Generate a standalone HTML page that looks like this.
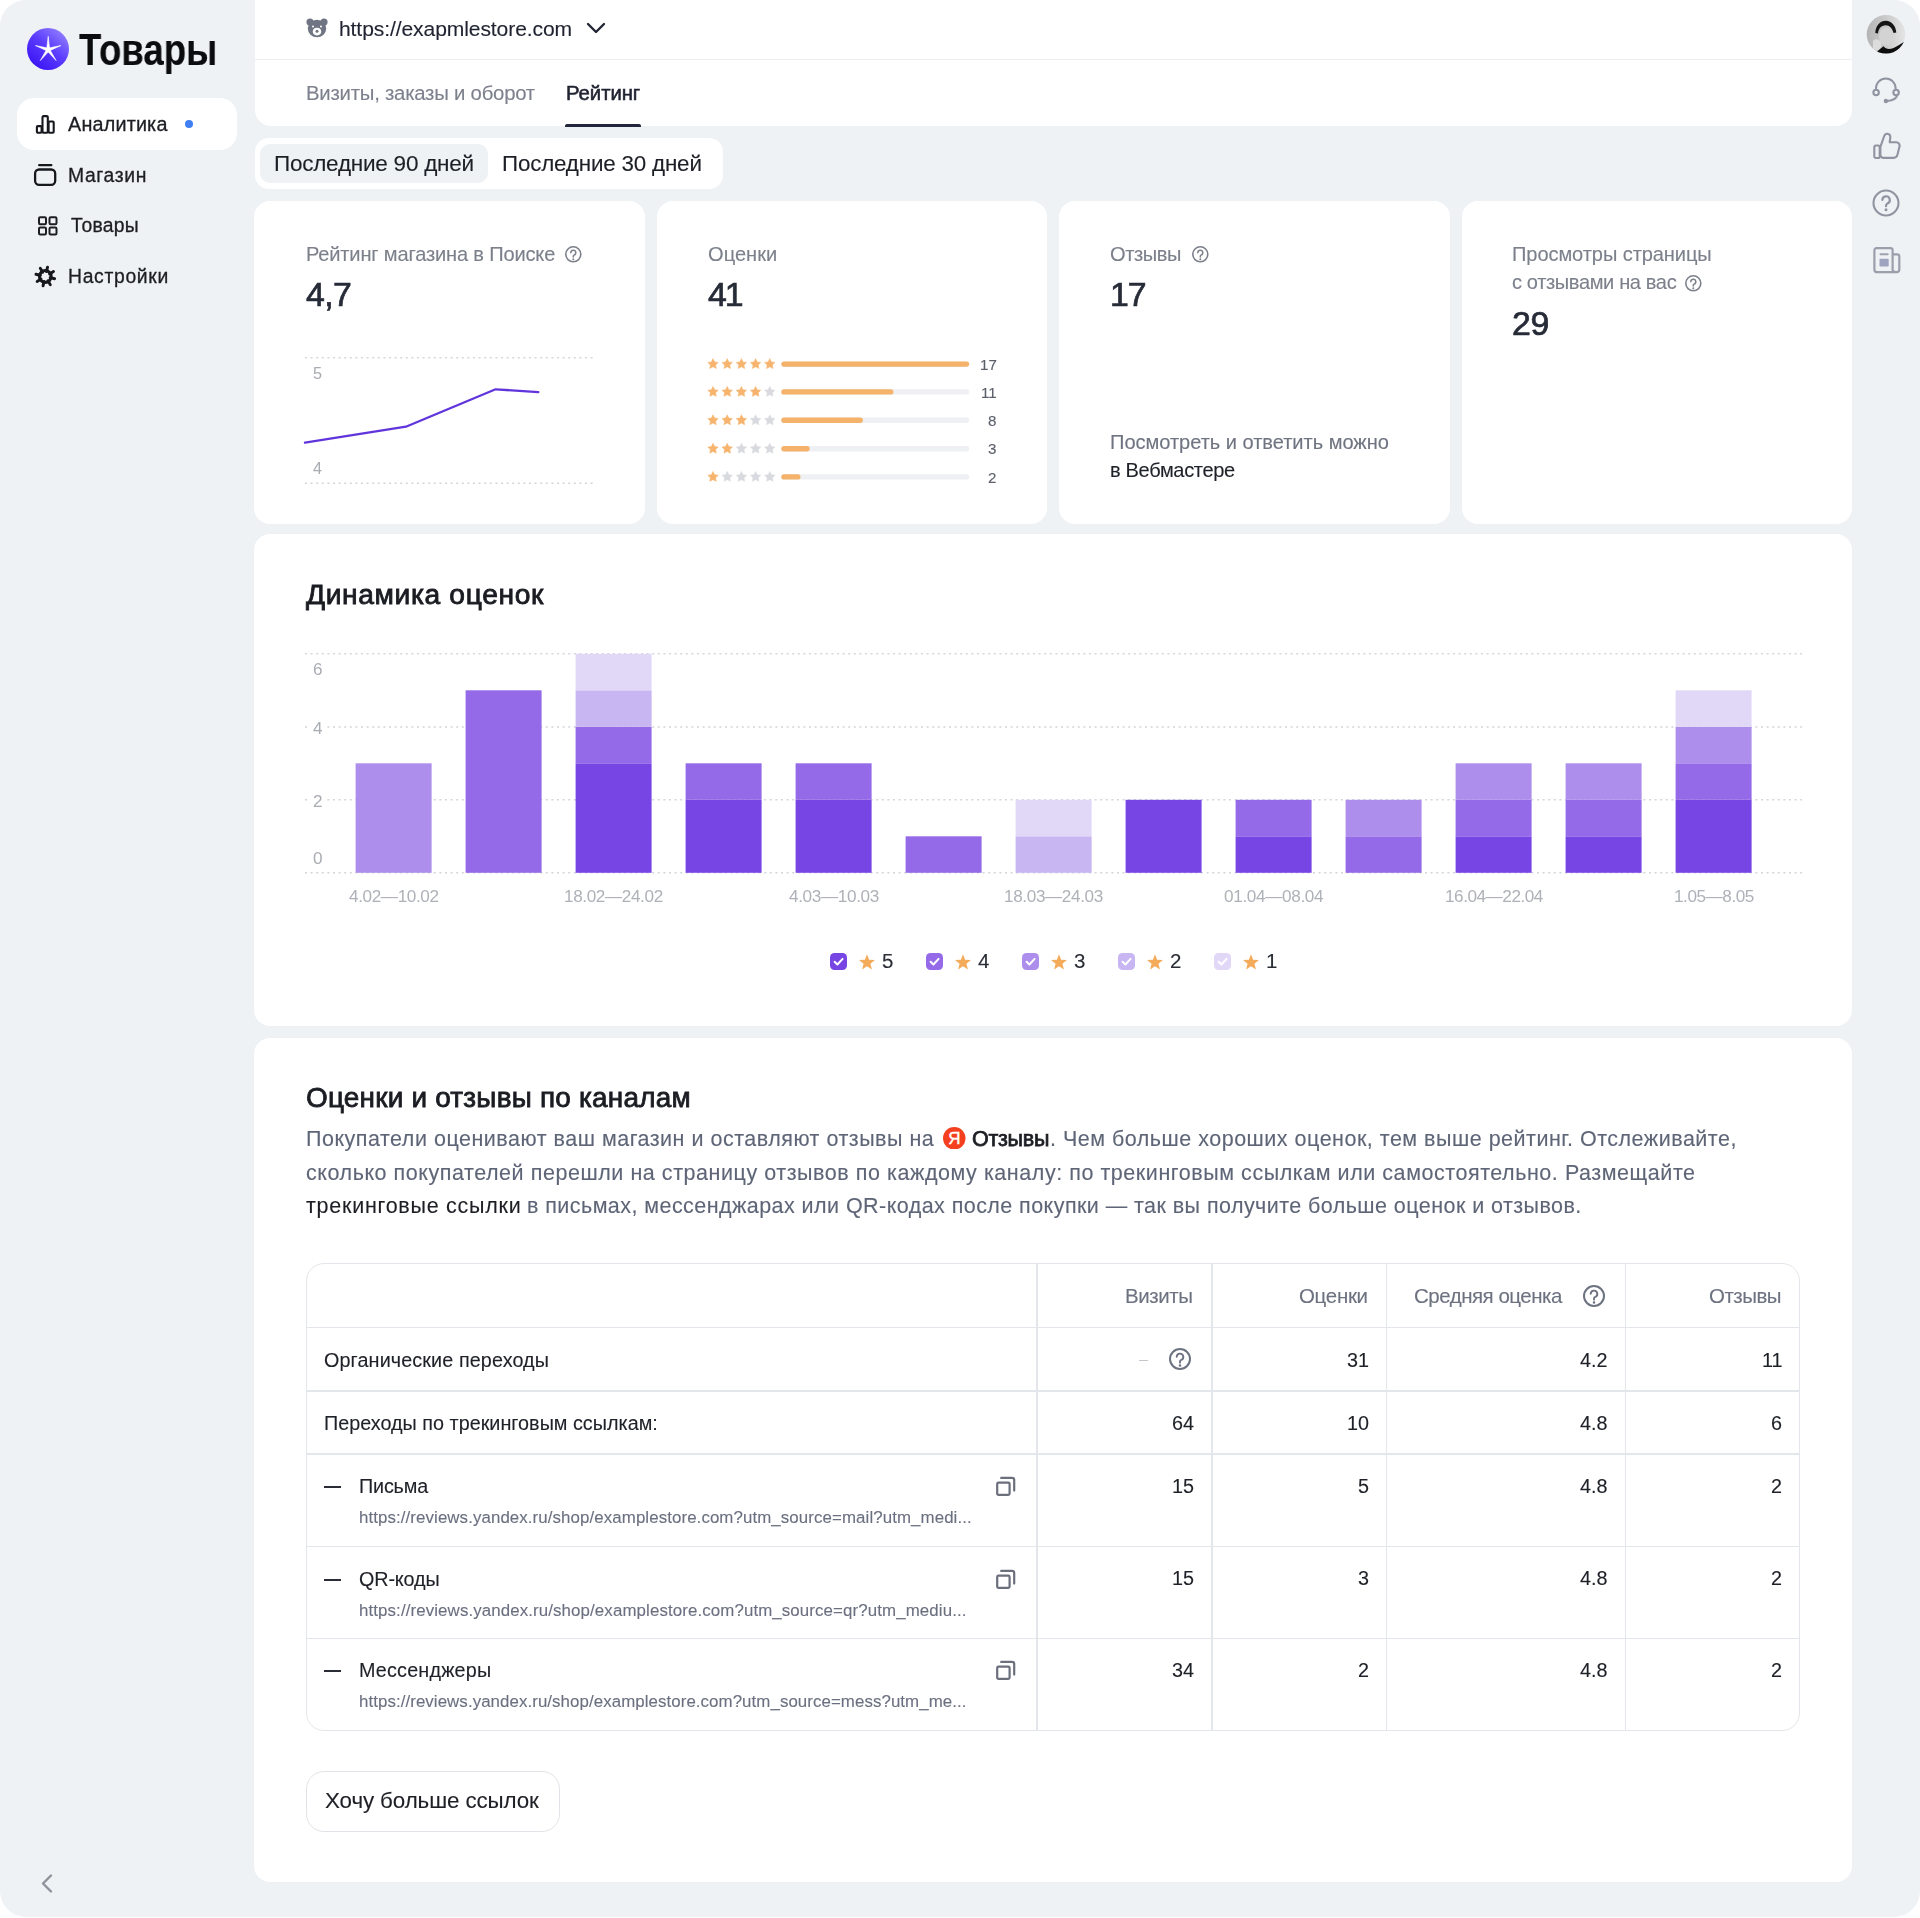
<!DOCTYPE html>
<html lang="ru"><head><meta charset="utf-8"><title>Рейтинг</title>
<style>
html,body{margin:0;padding:0;background:#fff;}
body{width:1920px;height:1918px;position:relative;overflow:hidden;font-family:"Liberation Sans",Arial,sans-serif;}
.page{position:absolute;left:0;top:0;width:1920px;height:1917px;background:#eef2f5;border-radius:26px;overflow:hidden;}
.t{position:absolute;line-height:1;white-space:nowrap;-webkit-text-stroke:0.12px currentColor;will-change:transform;}
</style></head><body><div class="page">
<svg style="position:absolute;left:27.00px;top:28.00px;" width="42" height="42" viewBox="0 0 42 42"><defs><linearGradient id="lg" x1="0.15" y1="0.95" x2="0.85" y2="0.1"><stop offset="0" stop-color="#3a12f2"/><stop offset="0.55" stop-color="#5b3cff"/><stop offset="1" stop-color="#8d7bff"/></linearGradient></defs>
<circle cx="21" cy="21" r="21" fill="url(#lg)"/>
<polygon points="21.20,8.30 22.55,19.84 33.94,17.56 23.39,22.41 29.08,32.54 21.20,24.00 13.32,32.54 19.01,22.41 8.46,17.56 19.85,19.84" fill="#fff" stroke="#fff" stroke-width="0.6" stroke-linejoin="round"/></svg>
<div class="t" style="font-size:44.33px;top:27.50px;color:#0b0c0e;font-weight:700;left:79.30px;transform:scaleX(0.8250);transform-origin:left 0;">Товары</div>
<div style="position:absolute;left:17.00px;top:98.00px;width:220.00px;height:52.00px;background:#ffffff;border-radius:17px;"></div>
<svg style="position:absolute;left:35.00px;top:114.00px;" width="21" height="21" viewBox="0 0 21 21"><g fill="none" stroke="#16181d" stroke-width="2.1" stroke-linejoin="round"><rect x="1.9" y="12.1" width="4.7" height="6.7" rx="1"/><rect x="7.5" y="2.1" width="5.3" height="16.7" rx="1"/><rect x="13.6" y="7.5" width="5.1" height="11.3" rx="1"/></g></svg>
<div class="t" style="font-size:19.77px;top:115.41px;color:#1c1e23;letter-spacing:0.195px;-webkit-text-stroke:0.30px #1c1e23;left:68.40px;">Аналитика</div>
<div style="position:absolute;left:184.6px;top:120.1px;width:8.4px;height:8.4px;border-radius:50%;background:#3f7ff2"></div>
<svg style="position:absolute;left:33.00px;top:163.00px;" width="24" height="24" viewBox="0 0 24 24"><g fill="none" stroke="#16181d" stroke-width="2.3"><rect x="2.1" y="6.5" width="20.1" height="15.3" rx="4"/><path d="M6.2 2.2 H18.3" stroke-linecap="round"/></g></svg>
<div class="t" style="font-size:19.33px;top:165.60px;color:#1c1e23;letter-spacing:0.633px;-webkit-text-stroke:0.30px #1c1e23;left:68.40px;">Магазин</div>
<svg style="position:absolute;left:38.00px;top:216.00px;" width="20" height="20" viewBox="0 0 20 20"><g fill="none" stroke="#1c1e23" stroke-width="2"><rect x="1" y="1.2" width="7" height="7" rx="1.2"/><rect x="11.5" y="1.2" width="7" height="7" rx="1.2"/><rect x="1" y="11.5" width="7" height="7" rx="1.2"/><rect x="11.5" y="11.5" width="7" height="7" rx="1.2"/></g></svg>
<div class="t" style="font-size:19.33px;top:216.01px;color:#1c1e23;letter-spacing:0.250px;-webkit-text-stroke:0.30px #1c1e23;left:71.40px;">Товары</div>
<svg style="position:absolute;left:33.00px;top:264.00px;" width="25" height="25" viewBox="0 0 25 25"><g stroke="#16181d" stroke-width="2.9" stroke-linecap="round"><line x1="13.47" y1="7.64" x2="14.54" y2="3.17"/><line x1="16.56" y1="9.89" x2="20.49" y2="7.48"/><line x1="17.16" y1="13.67" x2="21.63" y2="14.74"/><line x1="14.91" y1="16.76" x2="17.32" y2="20.69"/><line x1="11.13" y1="17.36" x2="10.06" y2="21.83"/><line x1="8.04" y1="15.11" x2="4.11" y2="17.52"/><line x1="7.44" y1="11.33" x2="2.97" y2="10.26"/><line x1="9.69" y1="8.24" x2="7.28" y2="4.31"/></g><circle cx="12.3" cy="12.5" r="5.9" fill="none" stroke="#16181d" stroke-width="3"/></svg>
<div class="t" style="font-size:19.33px;top:267.01px;color:#1c1e23;letter-spacing:0.690px;-webkit-text-stroke:0.30px #1c1e23;left:68.40px;">Настройки</div>
<svg style="position:absolute;left:40.00px;top:1873.00px;" width="14" height="22" viewBox="0 0 14 22"><path d="M11 2.5 L3 10.5 L11 18.5" fill="none" stroke="#8d929b" stroke-width="2.4" stroke-linecap="round" stroke-linejoin="round"/></svg>
<svg style="position:absolute;left:1866.00px;top:14.00px;" width="40" height="40" viewBox="0 0 40 40"><defs><clipPath id="av"><circle cx="20" cy="20.3" r="19.3"/></clipPath><linearGradient id="avg" x1="0" y1="0" x2="1" y2="0"><stop offset="0" stop-color="#b4b4b4"/><stop offset="0.6" stop-color="#cfcfcf"/><stop offset="1" stop-color="#e6e6e6"/></linearGradient></defs><g clip-path="url(#av)"><rect width="40" height="41" fill="url(#avg)"/><path d="M9.3 19 C9.5 11 15 6.5 20 6.8 C25.5 7.2 29.8 11.5 30.3 18.5 L27.5 19 C26.5 14.5 23.5 11.2 19.5 11.2 C15.5 11.3 12.3 14.5 12 19.5 Z" fill="#151515"/><ellipse cx="20" cy="22.5" rx="7" ry="8.8" fill="#d3d3d3"/><path d="M7 27 C9.5 24 13 25 15.5 29 L14.5 36 L7 36 Z" fill="#dcdcdc"/><path d="M9 41 C11 36.5 15 34.5 17.6 32.2 C19.5 35 23 35.6 27 34.2 C31 32.6 35 29.8 39.5 27 L41 41 Z" fill="#0e0e0e"/></g></svg>
<svg style="position:absolute;left:1872.00px;top:76.00px;" width="28" height="28" viewBox="0 0 28 28"><g fill="none" stroke="#8f94a0" stroke-width="2.1" stroke-linecap="round"><path d="M4 12.3 A9.8 9.8 0 0 1 23.6 12.3"/><circle cx="4.1" cy="16.5" r="2.7"/><circle cx="24.1" cy="16.5" r="2.7"/><path d="M25.3 19 C24.3 23 20.5 24.6 15.2 25"/></g><circle cx="13.9" cy="25" r="2.2" fill="#8f94a0"/></svg>
<svg style="position:absolute;left:1872.00px;top:131.00px;" width="29" height="29" viewBox="0 0 29 29"><g fill="none" stroke="#8f94a0" stroke-width="2.1" stroke-linejoin="round"><rect x="2.3" y="14.5" width="5.4" height="12.5" rx="1.6"/><path d="M8.4 15.8 L12.2 5 C12.8 3.3 14 2.7 15.5 2.8 C17.3 3 18.4 4.4 18.3 6.3 L17.7 11.2 H24.2 C26.6 11.2 28 13.3 27.5 15.5 L25.5 23.6 C25 25.6 23.6 26.9 21.6 26.9 H11.5 C9.7 26.9 8.4 25.6 8.4 23.8 Z"/></g></svg>
<svg style="position:absolute;left:1872.00px;top:189.00px;" width="28" height="28" viewBox="0 0 28 28"><circle cx="14" cy="14" r="12.5" fill="none" stroke="#8f94a0" stroke-width="2.1"/><path d="M10.4 11 A3.7 3.7 0 1 1 15.5 14.4 C14.4 15 14 15.8 14 17.2" fill="none" stroke="#8f94a0" stroke-width="2.2" stroke-linecap="round"/><circle cx="14" cy="20.8" r="1.5" fill="#8f94a0"/></svg>
<svg style="position:absolute;left:1872.00px;top:246.00px;" width="30" height="30" viewBox="0 0 30 30"><g fill="none" stroke="#9a9fab" stroke-width="2.2" stroke-linejoin="round"><path d="M20.6 8.4 H25.3 C26.5 8.4 27.3 9.2 27.3 10.4 V23.5 C27.3 25 26.2 26.2 24.6 26.2"/><path d="M4.4 2.2 H18.6 C19.7 2.2 20.6 3.1 20.6 4.2 V23.5 C20.6 25 21.6 26.2 24.6 26.2 H5.4 C3.6 26.2 2.4 25 2.4 23.4 V4.2 C2.4 3.1 3.3 2.2 4.4 2.2 Z"/></g><rect x="7.5" y="7.2" width="9.2" height="2.1" rx="1" fill="#9ea3ae"/><rect x="7.5" y="12.8" width="9.2" height="7.7" rx="0.8" fill="#9ea4bf"/></svg>
<div style="position:absolute;left:254.50px;top:-30.00px;width:1597.50px;height:156.00px;background:#ffffff;border-radius:16px;"></div>
<div style="position:absolute;left:255.00px;top:58.50px;width:1597.00px;height:1.20px;background:#eceef1;border-radius:0px;"></div>
<svg style="position:absolute;left:305.80px;top:18.30px;" width="22" height="20" viewBox="0 0 22 20"><g fill="#6f7582"><circle cx="4" cy="4" r="3.6"/><circle cx="18" cy="4" r="3.6"/><ellipse cx="11" cy="10.5" rx="9.2" ry="8.7"/></g><ellipse cx="11" cy="13.6" rx="4.2" ry="3.8" fill="#fff"/><circle cx="11" cy="13.2" r="1.5" fill="#6f7582"/><circle cx="7" cy="8.5" r="1" fill="#fff"/><circle cx="15" cy="8.5" r="1" fill="#fff"/></svg>
<div class="t" style="font-size:21.08px;top:17.61px;color:#1f2230;letter-spacing:-0.102px;left:339.00px;">https://exapmlestore.com</div>
<svg style="position:absolute;left:586.00px;top:22.00px;" width="20" height="13" viewBox="0 0 20 13"><path d="M2 2 L10 10 L18 2" fill="none" stroke="#1f2230" stroke-width="2.3" stroke-linecap="round" stroke-linejoin="round"/></svg>
<div class="t" style="font-size:20.35px;top:83.01px;color:#7d818d;letter-spacing:-0.235px;left:306.00px;">Визиты, заказы и оборот</div>
<div class="t" style="font-size:20.35px;top:83.01px;color:#1f2230;letter-spacing:-0.073px;-webkit-text-stroke:0.55px #1f2230;left:565.80px;">Рейтинг</div>
<div style="position:absolute;left:565.00px;top:124.00px;width:76.00px;height:3.00px;background:#22263a;border-radius:2px 2px 0 0;"></div>
<div style="position:absolute;left:254.50px;top:138.00px;width:468.50px;height:50.70px;background:#ffffff;border-radius:14px;"></div>
<div style="position:absolute;left:260.00px;top:143.80px;width:228.00px;height:39.20px;background:#eef2f5;border-radius:10px;"></div>
<div class="t" style="font-size:22.53px;top:152.81px;color:#1d1f26;letter-spacing:-0.244px;left:274.00px;">Последние 90 дней</div>
<div class="t" style="font-size:22.38px;top:152.61px;color:#1d1f26;letter-spacing:-0.179px;left:502.20px;">Последние 30 дней</div>
<div style="position:absolute;left:254.30px;top:201.00px;width:390.50px;height:322.60px;background:#ffffff;border-radius:16px;"></div>
<div style="position:absolute;left:656.60px;top:201.00px;width:390.50px;height:322.60px;background:#ffffff;border-radius:16px;"></div>
<div style="position:absolute;left:1059.00px;top:201.00px;width:390.50px;height:322.60px;background:#ffffff;border-radius:16px;"></div>
<div style="position:absolute;left:1461.60px;top:201.00px;width:390.50px;height:322.60px;background:#ffffff;border-radius:16px;"></div>
<div class="t" style="font-size:20.06px;top:243.81px;color:#7c808b;letter-spacing:-0.163px;left:306.20px;">Рейтинг магазина в Поиске</div>
<svg style="position:absolute;left:563.70px;top:244.90px;" width="18.6" height="18.6" viewBox="0 0 18.6 18.6"><circle cx="9.3" cy="9.3" r="7.5" fill="none" stroke="#7c808b" stroke-width="1.6"/><path d="M6.81 7.64 A2.49 2.49 0 1 1 9.964 10.13 C9.134 10.462 9.3 10.96 9.3 12.039" fill="none" stroke="#7c808b" stroke-width="1.52" stroke-linecap="round"/><circle cx="9.3" cy="14.28" r="0.96" fill="#7c808b"/></svg>
<div class="t" style="font-size:33.87px;top:278.00px;color:#262b37;letter-spacing:-0.593px;-webkit-text-stroke:0.70px #262b37;left:306.00px;">4,7</div>
<svg style="position:absolute;left:300.00px;top:340.00px;" width="300" height="160" viewBox="0 0 300 160"><line x1="5" y1="17.7" x2="293" y2="17.7" stroke="#d2d5da" stroke-width="1.4" stroke-dasharray="2 3.6"/><line x1="5" y1="143.3" x2="293" y2="143.3" stroke="#d2d5da" stroke-width="1.4" stroke-dasharray="2 3.6"/><polyline points="5,102.7 105.9,86.7 195.6,49.3 238.3,52.1" fill="none" stroke="#6135dc" stroke-width="2.3" stroke-linejoin="round" stroke-linecap="round"/></svg>
<div class="t" style="font-size:16.28px;top:364.61px;color:#a9acb3;letter-spacing:-0.854px;-webkit-text-stroke:0;left:313.00px;">5</div>
<div class="t" style="font-size:16.28px;top:460.21px;color:#a9acb3;letter-spacing:-0.854px;-webkit-text-stroke:0;left:313.00px;">4</div>
<div class="t" style="font-size:20.06px;top:243.81px;color:#7c808b;letter-spacing:0.037px;left:707.70px;">Оценки</div>
<div class="t" style="font-size:33.87px;top:278.00px;color:#262b37;letter-spacing:-1.985px;-webkit-text-stroke:0.70px #262b37;left:707.70px;">41</div>
<svg style="position:absolute;left:700.00px;top:350.00px;" width="280" height="140" viewBox="0 0 280 140"><polygon points="13.00,8.60 14.62,11.88 18.23,12.40 15.62,14.95 16.23,18.55 13.00,16.85 9.77,18.55 10.38,14.95 7.77,12.40 11.38,11.88" fill="#f6b46e" stroke="#f6b46e" stroke-width="0.5" stroke-linejoin="round"/><polygon points="27.20,8.60 28.82,11.88 32.43,12.40 29.82,14.95 30.43,18.55 27.20,16.85 23.97,18.55 24.58,14.95 21.97,12.40 25.58,11.88" fill="#f6b46e" stroke="#f6b46e" stroke-width="0.5" stroke-linejoin="round"/><polygon points="41.40,8.60 43.02,11.88 46.63,12.40 44.02,14.95 44.63,18.55 41.40,16.85 38.17,18.55 38.78,14.95 36.17,12.40 39.78,11.88" fill="#f6b46e" stroke="#f6b46e" stroke-width="0.5" stroke-linejoin="round"/><polygon points="55.60,8.60 57.22,11.88 60.83,12.40 58.22,14.95 58.83,18.55 55.60,16.85 52.37,18.55 52.98,14.95 50.37,12.40 53.98,11.88" fill="#f6b46e" stroke="#f6b46e" stroke-width="0.5" stroke-linejoin="round"/><polygon points="69.80,8.60 71.42,11.88 75.03,12.40 72.42,14.95 73.03,18.55 69.80,16.85 66.57,18.55 67.18,14.95 64.57,12.40 68.18,11.88" fill="#f6b46e" stroke="#f6b46e" stroke-width="0.5" stroke-linejoin="round"/><line x1="84" y1="14.1" x2="266.5" y2="14.1" stroke="#eff0f3" stroke-width="5.4" stroke-linecap="round"/><line x1="84" y1="14.1" x2="266.5" y2="14.1" stroke="#f4b26a" stroke-width="5.4" stroke-linecap="round"/><polygon points="13.00,36.40 14.62,39.68 18.23,40.20 15.62,42.75 16.23,46.35 13.00,44.65 9.77,46.35 10.38,42.75 7.77,40.20 11.38,39.68" fill="#f6b46e" stroke="#f6b46e" stroke-width="0.5" stroke-linejoin="round"/><polygon points="27.20,36.40 28.82,39.68 32.43,40.20 29.82,42.75 30.43,46.35 27.20,44.65 23.97,46.35 24.58,42.75 21.97,40.20 25.58,39.68" fill="#f6b46e" stroke="#f6b46e" stroke-width="0.5" stroke-linejoin="round"/><polygon points="41.40,36.40 43.02,39.68 46.63,40.20 44.02,42.75 44.63,46.35 41.40,44.65 38.17,46.35 38.78,42.75 36.17,40.20 39.78,39.68" fill="#f6b46e" stroke="#f6b46e" stroke-width="0.5" stroke-linejoin="round"/><polygon points="55.60,36.40 57.22,39.68 60.83,40.20 58.22,42.75 58.83,46.35 55.60,44.65 52.37,46.35 52.98,42.75 50.37,40.20 53.98,39.68" fill="#f6b46e" stroke="#f6b46e" stroke-width="0.5" stroke-linejoin="round"/><polygon points="69.80,36.40 71.42,39.68 75.03,40.20 72.42,42.75 73.03,46.35 69.80,44.65 66.57,46.35 67.18,42.75 64.57,40.20 68.18,39.68" fill="#d8dadf" stroke="#d8dadf" stroke-width="0.5" stroke-linejoin="round"/><line x1="84" y1="41.9" x2="266.5" y2="41.9" stroke="#eff0f3" stroke-width="5.4" stroke-linecap="round"/><line x1="84" y1="41.9" x2="190.7" y2="41.9" stroke="#f4b26a" stroke-width="5.4" stroke-linecap="round"/><polygon points="13.00,64.80 14.62,68.08 18.23,68.60 15.62,71.15 16.23,74.75 13.00,73.05 9.77,74.75 10.38,71.15 7.77,68.60 11.38,68.08" fill="#f6b46e" stroke="#f6b46e" stroke-width="0.5" stroke-linejoin="round"/><polygon points="27.20,64.80 28.82,68.08 32.43,68.60 29.82,71.15 30.43,74.75 27.20,73.05 23.97,74.75 24.58,71.15 21.97,68.60 25.58,68.08" fill="#f6b46e" stroke="#f6b46e" stroke-width="0.5" stroke-linejoin="round"/><polygon points="41.40,64.80 43.02,68.08 46.63,68.60 44.02,71.15 44.63,74.75 41.40,73.05 38.17,74.75 38.78,71.15 36.17,68.60 39.78,68.08" fill="#f6b46e" stroke="#f6b46e" stroke-width="0.5" stroke-linejoin="round"/><polygon points="55.60,64.80 57.22,68.08 60.83,68.60 58.22,71.15 58.83,74.75 55.60,73.05 52.37,74.75 52.98,71.15 50.37,68.60 53.98,68.08" fill="#d8dadf" stroke="#d8dadf" stroke-width="0.5" stroke-linejoin="round"/><polygon points="69.80,64.80 71.42,68.08 75.03,68.60 72.42,71.15 73.03,74.75 69.80,73.05 66.57,74.75 67.18,71.15 64.57,68.60 68.18,68.08" fill="#d8dadf" stroke="#d8dadf" stroke-width="0.5" stroke-linejoin="round"/><line x1="84" y1="70.3" x2="266.5" y2="70.3" stroke="#eff0f3" stroke-width="5.4" stroke-linecap="round"/><line x1="84" y1="70.3" x2="160.2" y2="70.3" stroke="#f4b26a" stroke-width="5.4" stroke-linecap="round"/><polygon points="13.00,93.20 14.62,96.48 18.23,97.00 15.62,99.55 16.23,103.15 13.00,101.45 9.77,103.15 10.38,99.55 7.77,97.00 11.38,96.48" fill="#f6b46e" stroke="#f6b46e" stroke-width="0.5" stroke-linejoin="round"/><polygon points="27.20,93.20 28.82,96.48 32.43,97.00 29.82,99.55 30.43,103.15 27.20,101.45 23.97,103.15 24.58,99.55 21.97,97.00 25.58,96.48" fill="#f6b46e" stroke="#f6b46e" stroke-width="0.5" stroke-linejoin="round"/><polygon points="41.40,93.20 43.02,96.48 46.63,97.00 44.02,99.55 44.63,103.15 41.40,101.45 38.17,103.15 38.78,99.55 36.17,97.00 39.78,96.48" fill="#d8dadf" stroke="#d8dadf" stroke-width="0.5" stroke-linejoin="round"/><polygon points="55.60,93.20 57.22,96.48 60.83,97.00 58.22,99.55 58.83,103.15 55.60,101.45 52.37,103.15 52.98,99.55 50.37,97.00 53.98,96.48" fill="#d8dadf" stroke="#d8dadf" stroke-width="0.5" stroke-linejoin="round"/><polygon points="69.80,93.20 71.42,96.48 75.03,97.00 72.42,99.55 73.03,103.15 69.80,101.45 66.57,103.15 67.18,99.55 64.57,97.00 68.18,96.48" fill="#d8dadf" stroke="#d8dadf" stroke-width="0.5" stroke-linejoin="round"/><line x1="84" y1="98.7" x2="266.5" y2="98.7" stroke="#eff0f3" stroke-width="5.4" stroke-linecap="round"/><line x1="84" y1="98.7" x2="107" y2="98.7" stroke="#f4b26a" stroke-width="5.4" stroke-linecap="round"/><polygon points="13.00,121.40 14.62,124.68 18.23,125.20 15.62,127.75 16.23,131.35 13.00,129.65 9.77,131.35 10.38,127.75 7.77,125.20 11.38,124.68" fill="#f6b46e" stroke="#f6b46e" stroke-width="0.5" stroke-linejoin="round"/><polygon points="27.20,121.40 28.82,124.68 32.43,125.20 29.82,127.75 30.43,131.35 27.20,129.65 23.97,131.35 24.58,127.75 21.97,125.20 25.58,124.68" fill="#d8dadf" stroke="#d8dadf" stroke-width="0.5" stroke-linejoin="round"/><polygon points="41.40,121.40 43.02,124.68 46.63,125.20 44.02,127.75 44.63,131.35 41.40,129.65 38.17,131.35 38.78,127.75 36.17,125.20 39.78,124.68" fill="#d8dadf" stroke="#d8dadf" stroke-width="0.5" stroke-linejoin="round"/><polygon points="55.60,121.40 57.22,124.68 60.83,125.20 58.22,127.75 58.83,131.35 55.60,129.65 52.37,131.35 52.98,127.75 50.37,125.20 53.98,124.68" fill="#d8dadf" stroke="#d8dadf" stroke-width="0.5" stroke-linejoin="round"/><polygon points="69.80,121.40 71.42,124.68 75.03,125.20 72.42,127.75 73.03,131.35 69.80,129.65 66.57,131.35 67.18,127.75 64.57,125.20 68.18,124.68" fill="#d8dadf" stroke="#d8dadf" stroke-width="0.5" stroke-linejoin="round"/><line x1="84" y1="126.9" x2="266.5" y2="126.9" stroke="#eff0f3" stroke-width="5.4" stroke-linecap="round"/><line x1="84" y1="126.9" x2="97.8" y2="126.9" stroke="#f4b26a" stroke-width="5.4" stroke-linecap="round"/></svg>
<div class="t" style="font-size:15.12px;top:356.71px;color:#5b5f69;right:923.20px;">17</div>
<div class="t" style="font-size:15.12px;top:384.52px;color:#5b5f69;right:923.20px;">11</div>
<div class="t" style="font-size:15.12px;top:412.91px;color:#5b5f69;right:923.20px;">8</div>
<div class="t" style="font-size:15.12px;top:441.30px;color:#5b5f69;right:923.20px;">3</div>
<div class="t" style="font-size:15.12px;top:469.52px;color:#5b5f69;right:923.20px;">2</div>
<div class="t" style="font-size:20.06px;top:243.81px;color:#7c808b;letter-spacing:-0.413px;left:1110.40px;">Отзывы</div>
<svg style="position:absolute;left:1190.70px;top:244.90px;" width="18.6" height="18.6" viewBox="0 0 18.6 18.6"><circle cx="9.3" cy="9.3" r="7.5" fill="none" stroke="#7c808b" stroke-width="1.6"/><path d="M6.81 7.64 A2.49 2.49 0 1 1 9.964 10.13 C9.134 10.462 9.3 10.96 9.3 12.039" fill="none" stroke="#7c808b" stroke-width="1.52" stroke-linecap="round"/><circle cx="9.3" cy="14.28" r="0.96" fill="#7c808b"/></svg>
<div class="t" style="font-size:33.87px;top:278.00px;color:#262b37;letter-spacing:-0.985px;-webkit-text-stroke:0.70px #262b37;left:1110.40px;">17</div>
<div class="t" style="font-size:20.06px;top:432.11px;color:#6f7480;letter-spacing:-0.027px;left:1110.40px;">Посмотреть и ответить можно</div>
<div class="t" style="font-size:20.06px;top:459.91px;color:#1f2128;letter-spacing:-0.332px;left:1110.40px;">в Вебмастере</div>
<div class="t" style="font-size:20.06px;top:243.81px;color:#7c808b;letter-spacing:-0.084px;left:1512.40px;">Просмотры страницы</div>
<div class="t" style="font-size:20.06px;top:272.00px;color:#7c808b;letter-spacing:-0.370px;left:1512.40px;">с отзывами на вас</div>
<svg style="position:absolute;left:1683.50px;top:274.30px;" width="18.6" height="18.6" viewBox="0 0 18.6 18.6"><circle cx="9.3" cy="9.3" r="7.5" fill="none" stroke="#7c808b" stroke-width="1.6"/><path d="M6.81 7.64 A2.49 2.49 0 1 1 9.964 10.13 C9.134 10.462 9.3 10.96 9.3 12.039" fill="none" stroke="#7c808b" stroke-width="1.52" stroke-linecap="round"/><circle cx="9.3" cy="14.28" r="0.96" fill="#7c808b"/></svg>
<div class="t" style="font-size:33.87px;top:306.61px;color:#262b37;letter-spacing:-0.385px;-webkit-text-stroke:0.70px #262b37;left:1512.40px;">29</div>
<div style="position:absolute;left:254.30px;top:534.00px;width:1597.50px;height:492.00px;background:#ffffff;border-radius:16px;"></div>
<div class="t" style="font-size:28.20px;top:579.91px;color:#1a1c22;letter-spacing:0.633px;-webkit-text-stroke:0.85px #1a1c22;left:305.90px;">Динамика оценок</div>
<svg style="position:absolute;left:300.00px;top:640.00px;" width="1510" height="240" viewBox="0 0 1510 240"><line x1="5" y1="13.8" x2="1502" y2="13.8" stroke="#d2d5da" stroke-width="1.4" stroke-dasharray="2 3.6"/><line x1="5" y1="87" x2="1502" y2="87" stroke="#d2d5da" stroke-width="1.4" stroke-dasharray="2 3.6"/><line x1="5" y1="159.8" x2="1502" y2="159.8" stroke="#d2d5da" stroke-width="1.4" stroke-dasharray="2 3.6"/><line x1="5" y1="232.8" x2="1502" y2="232.8" stroke="#d2d5da" stroke-width="1.4" stroke-dasharray="2 3.6"/><rect x="55.60" y="123.30" width="76" height="109.50" fill="#ad8eec"/><rect x="165.60" y="50.30" width="76" height="182.50" fill="#946ae8"/><rect x="275.60" y="123.30" width="76" height="109.50" fill="#7845e5"/><rect x="275.60" y="86.80" width="76" height="36.50" fill="#946ae8"/><rect x="275.60" y="50.30" width="76" height="36.50" fill="#c8b6f2"/><rect x="275.60" y="13.80" width="76" height="36.50" fill="#e1d8f8"/><rect x="385.60" y="159.80" width="76" height="73.00" fill="#7845e5"/><rect x="385.60" y="123.30" width="76" height="36.50" fill="#946ae8"/><rect x="495.60" y="159.80" width="76" height="73.00" fill="#7845e5"/><rect x="495.60" y="123.30" width="76" height="36.50" fill="#946ae8"/><rect x="605.60" y="196.30" width="76" height="36.50" fill="#946ae8"/><rect x="715.60" y="196.30" width="76" height="36.50" fill="#c8b6f2"/><rect x="715.60" y="159.80" width="76" height="36.50" fill="#e1d8f8"/><rect x="825.60" y="159.80" width="76" height="73.00" fill="#7845e5"/><rect x="935.60" y="196.30" width="76" height="36.50" fill="#7845e5"/><rect x="935.60" y="159.80" width="76" height="36.50" fill="#946ae8"/><rect x="1045.60" y="196.30" width="76" height="36.50" fill="#946ae8"/><rect x="1045.60" y="159.80" width="76" height="36.50" fill="#ad8eec"/><rect x="1155.60" y="196.30" width="76" height="36.50" fill="#7845e5"/><rect x="1155.60" y="159.80" width="76" height="36.50" fill="#946ae8"/><rect x="1155.60" y="123.30" width="76" height="36.50" fill="#ad8eec"/><rect x="1265.60" y="196.30" width="76" height="36.50" fill="#7845e5"/><rect x="1265.60" y="159.80" width="76" height="36.50" fill="#946ae8"/><rect x="1265.60" y="123.30" width="76" height="36.50" fill="#ad8eec"/><rect x="1375.60" y="159.80" width="76" height="73.00" fill="#7845e5"/><rect x="1375.60" y="123.30" width="76" height="36.50" fill="#946ae8"/><rect x="1375.60" y="86.80" width="76" height="36.50" fill="#ad8eec"/><rect x="1375.60" y="50.30" width="76" height="36.50" fill="#e1d8f8"/></svg>
<div style="position:absolute;left:309.00px;top:720.00px;width:17.00px;height:14.00px;background:#fff;border-radius:0px;"></div>
<div style="position:absolute;left:309.00px;top:793.00px;width:17.00px;height:14.00px;background:#fff;border-radius:0px;"></div>
<div class="t" style="font-size:17.15px;top:660.91px;color:#a9acb3;letter-spacing:-0.539px;-webkit-text-stroke:0;left:312.60px;">6</div>
<div class="t" style="font-size:17.15px;top:719.51px;color:#a9acb3;letter-spacing:-0.539px;-webkit-text-stroke:0;left:312.60px;">4</div>
<div class="t" style="font-size:17.15px;top:793.01px;color:#a9acb3;letter-spacing:-0.539px;-webkit-text-stroke:0;left:312.60px;">2</div>
<div class="t" style="font-size:17.15px;top:850.01px;color:#a9acb3;letter-spacing:-0.539px;-webkit-text-stroke:0;left:312.60px;">0</div>
<div class="t" style="font-size:17.15px;top:887.71px;color:#aeb1b8;letter-spacing:-0.375px;-webkit-text-stroke:0;left:348.75px;">4.02—10.02</div>
<div class="t" style="font-size:17.15px;top:887.71px;color:#aeb1b8;letter-spacing:-0.372px;-webkit-text-stroke:0;left:564.15px;">18.02—24.02</div>
<div class="t" style="font-size:17.15px;top:887.71px;color:#aeb1b8;letter-spacing:-0.345px;-webkit-text-stroke:0;left:788.60px;">4.03—10.03</div>
<div class="t" style="font-size:17.15px;top:887.71px;color:#aeb1b8;letter-spacing:-0.363px;-webkit-text-stroke:0;left:1004.10px;">18.03—24.03</div>
<div class="t" style="font-size:17.15px;top:887.71px;color:#aeb1b8;letter-spacing:-0.336px;-webkit-text-stroke:0;left:1223.95px;">01.04—08.04</div>
<div class="t" style="font-size:17.15px;top:887.71px;color:#aeb1b8;letter-spacing:-0.454px;-webkit-text-stroke:0;left:1444.60px;">16.04—22.04</div>
<div class="t" style="font-size:17.15px;top:887.71px;color:#aeb1b8;letter-spacing:-0.435px;-webkit-text-stroke:0;left:1673.60px;">1.05—8.05</div>
<svg style="position:absolute;left:830.40px;top:952.80px;" width="17" height="17" viewBox="0 0 17 17"><rect x="0" y="0" width="17" height="17" rx="4.5" fill="#7845e5"/><path d="M4.6 8.8 L7.4 11.5 L12.6 5.9" fill="none" stroke="#fff" stroke-width="2" stroke-linecap="round" stroke-linejoin="round"/></svg>
<svg style="position:absolute;left:858.40px;top:952.50px;" width="18" height="18" viewBox="0 0 18 18"><polygon points="9.00,1.20 11.12,6.69 16.99,7.00 12.42,10.71 13.94,16.40 9.00,13.20 4.06,16.40 5.58,10.71 1.01,7.00 6.88,6.69" fill="#f4ac5c"/></svg>
<div class="t" style="font-size:20.49px;top:951.31px;color:#2a2d35;left:881.60px;">5</div>
<svg style="position:absolute;left:926.40px;top:952.80px;" width="17" height="17" viewBox="0 0 17 17"><rect x="0" y="0" width="17" height="17" rx="4.5" fill="#946ae8"/><path d="M4.6 8.8 L7.4 11.5 L12.6 5.9" fill="none" stroke="#fff" stroke-width="2" stroke-linecap="round" stroke-linejoin="round"/></svg>
<svg style="position:absolute;left:954.40px;top:952.50px;" width="18" height="18" viewBox="0 0 18 18"><polygon points="9.00,1.20 11.12,6.69 16.99,7.00 12.42,10.71 13.94,16.40 9.00,13.20 4.06,16.40 5.58,10.71 1.01,7.00 6.88,6.69" fill="#f4ac5c"/></svg>
<div class="t" style="font-size:20.49px;top:951.31px;color:#2a2d35;left:977.60px;">4</div>
<svg style="position:absolute;left:1022.40px;top:952.80px;" width="17" height="17" viewBox="0 0 17 17"><rect x="0" y="0" width="17" height="17" rx="4.5" fill="#ad8eec"/><path d="M4.6 8.8 L7.4 11.5 L12.6 5.9" fill="none" stroke="#fff" stroke-width="2" stroke-linecap="round" stroke-linejoin="round"/></svg>
<svg style="position:absolute;left:1050.40px;top:952.50px;" width="18" height="18" viewBox="0 0 18 18"><polygon points="9.00,1.20 11.12,6.69 16.99,7.00 12.42,10.71 13.94,16.40 9.00,13.20 4.06,16.40 5.58,10.71 1.01,7.00 6.88,6.69" fill="#f4ac5c"/></svg>
<div class="t" style="font-size:20.49px;top:951.31px;color:#2a2d35;left:1073.60px;">3</div>
<svg style="position:absolute;left:1118.40px;top:952.80px;" width="17" height="17" viewBox="0 0 17 17"><rect x="0" y="0" width="17" height="17" rx="4.5" fill="#c8b6f2"/><path d="M4.6 8.8 L7.4 11.5 L12.6 5.9" fill="none" stroke="#fff" stroke-width="2" stroke-linecap="round" stroke-linejoin="round"/></svg>
<svg style="position:absolute;left:1146.40px;top:952.50px;" width="18" height="18" viewBox="0 0 18 18"><polygon points="9.00,1.20 11.12,6.69 16.99,7.00 12.42,10.71 13.94,16.40 9.00,13.20 4.06,16.40 5.58,10.71 1.01,7.00 6.88,6.69" fill="#f4ac5c"/></svg>
<div class="t" style="font-size:20.49px;top:951.31px;color:#2a2d35;left:1169.60px;">2</div>
<svg style="position:absolute;left:1214.40px;top:952.80px;" width="17" height="17" viewBox="0 0 17 17"><rect x="0" y="0" width="17" height="17" rx="4.5" fill="#e1d8f8"/><path d="M4.6 8.8 L7.4 11.5 L12.6 5.9" fill="none" stroke="#fff" stroke-width="2" stroke-linecap="round" stroke-linejoin="round"/></svg>
<svg style="position:absolute;left:1242.40px;top:952.50px;" width="18" height="18" viewBox="0 0 18 18"><polygon points="9.00,1.20 11.12,6.69 16.99,7.00 12.42,10.71 13.94,16.40 9.00,13.20 4.06,16.40 5.58,10.71 1.01,7.00 6.88,6.69" fill="#f4ac5c"/></svg>
<div class="t" style="font-size:20.49px;top:951.31px;color:#2a2d35;left:1265.60px;">1</div>
<div style="position:absolute;left:254.30px;top:1037.60px;width:1597.50px;height:844.50px;background:#ffffff;border-radius:16px;"></div>
<div class="t" style="font-size:27.91px;top:1083.91px;color:#1a1c22;letter-spacing:0.222px;-webkit-text-stroke:0.80px #1a1c22;left:305.80px;">Оценки и отзывы по каналам</div>
<div class="t" style="font-size:21.51px;top:1129.31px;color:#5e6577;letter-spacing:0.509px;left:305.70px;">Покупатели оценивают ваш магазин и оставляют отзывы на</div>
<svg style="position:absolute;left:943.00px;top:1126.50px;" width="22.5" height="22.5" viewBox="0 0 22.5 22.5"><circle cx="11.25" cy="11.25" r="11.25" fill="#f4401f"/><text x="11.5" y="17.4" font-family="Liberation Sans, Arial, sans-serif" font-size="17" fill="#fff" stroke="#fff" stroke-width="0.4" text-anchor="middle">Я</text></svg>
<div class="t" style="font-size:21.51px;top:1129.31px;color:#1c1e24;letter-spacing:-0.283px;-webkit-text-stroke:0.75px #1c1e24;left:971.90px;">Отзывы</div>
<div class="t" style="font-size:21.51px;top:1129.31px;color:#5e6577;letter-spacing:0.501px;left:1050.20px;">. Чем больше хороших оценок, тем выше рейтинг. Отслеживайте,</div>
<div class="t" style="font-size:21.51px;top:1162.81px;color:#5e6577;letter-spacing:0.551px;left:305.70px;">сколько покупателей перешли на страницу отзывов по каждому каналу: по трекинговым ссылкам или самостоятельно. Размещайте</div>
<div class="t" style="font-size:21.51px;top:1196.40px;color:#1c1e24;letter-spacing:0.744px;left:305.70px;">трекинговые ссылки</div>
<div class="t" style="font-size:21.51px;top:1196.40px;color:#5e6577;letter-spacing:0.441px;left:527.20px;">в письмах, мессенджарах или QR-кодах после покупки — так вы получите больше оценок и отзывов.</div>
<div style="position:absolute;left:305.80px;top:1263.00px;width:1494.20px;height:467.50px;border:1.6px solid #e3e6ea;border-radius:18px;box-sizing:border-box;"></div>
<div style="position:absolute;left:306.80px;top:1326.90px;width:1492.20px;height:1.60px;background:#e3e6ea;border-radius:0px;"></div>
<div style="position:absolute;left:306.80px;top:1390.30px;width:1492.20px;height:1.60px;background:#e3e6ea;border-radius:0px;"></div>
<div style="position:absolute;left:306.80px;top:1453.30px;width:1492.20px;height:1.60px;background:#e3e6ea;border-radius:0px;"></div>
<div style="position:absolute;left:306.80px;top:1545.90px;width:1492.20px;height:1.60px;background:#e3e6ea;border-radius:0px;"></div>
<div style="position:absolute;left:306.80px;top:1637.60px;width:1492.20px;height:1.60px;background:#e3e6ea;border-radius:0px;"></div>
<div style="position:absolute;left:1036.10px;top:1264.00px;width:1.60px;height:465.50px;background:#e3e6ea;border-radius:0px;"></div>
<div style="position:absolute;left:1211.20px;top:1264.00px;width:1.60px;height:465.50px;background:#e3e6ea;border-radius:0px;"></div>
<div style="position:absolute;left:1385.90px;top:1264.00px;width:1.60px;height:465.50px;background:#e3e6ea;border-radius:0px;"></div>
<div style="position:absolute;left:1624.80px;top:1264.00px;width:1.60px;height:465.50px;background:#e3e6ea;border-radius:0px;"></div>
<div class="t" style="font-size:20.49px;top:1286.10px;color:#6d7280;letter-spacing:-0.397px;right:726.90px;">Визиты</div>
<div class="t" style="font-size:20.49px;top:1286.10px;color:#6d7280;letter-spacing:-0.313px;right:551.91px;">Оценки</div>
<div class="t" style="font-size:20.49px;top:1286.10px;color:#6d7280;letter-spacing:-0.482px;left:1414.00px;">Средняя оценка</div>
<div class="t" style="font-size:20.49px;top:1286.10px;color:#6d7280;letter-spacing:-0.512px;right:138.91px;">Отзывы</div>
<svg style="position:absolute;left:1581.50px;top:1283.60px;" width="24" height="24" viewBox="0 0 24 24"><circle cx="12" cy="12" r="10" fill="none" stroke="#6d7280" stroke-width="2"/><path d="M8.7 9.8 A3.3 3.3 0 1 1 12.88 13.1 C11.78 13.54 12 14.2 12 15.63" fill="none" stroke="#6d7280" stroke-width="1.9" stroke-linecap="round"/><circle cx="12" cy="18.6" r="1.24" fill="#6d7280"/></svg>
<div class="t" style="font-size:19.77px;top:1350.91px;color:#1f2128;letter-spacing:0.116px;left:323.70px;">Органические переходы</div>
<div style="position:absolute;left:1139.00px;top:1359.60px;width:8.70px;height:1.40px;background:#c3c6cc;border-radius:0px;"></div>
<svg style="position:absolute;left:1168.00px;top:1347.00px;" width="24" height="24" viewBox="0 0 24 24"><circle cx="12" cy="12" r="10" fill="none" stroke="#6d7280" stroke-width="2"/><path d="M8.7 9.8 A3.3 3.3 0 1 1 12.88 13.1 C11.78 13.54 12 14.2 12 15.63" fill="none" stroke="#6d7280" stroke-width="1.9" stroke-linecap="round"/><circle cx="12" cy="18.6" r="1.24" fill="#6d7280"/></svg>
<div class="t" style="font-size:19.77px;top:1350.50px;color:#1f2128;right:551.40px;">31</div>
<div class="t" style="font-size:19.77px;top:1350.50px;color:#1f2128;right:312.10px;">4.2</div>
<div class="t" style="font-size:19.77px;top:1350.50px;color:#1f2128;right:137.80px;">11</div>
<div class="t" style="font-size:19.77px;top:1414.20px;color:#1f2128;letter-spacing:0.016px;left:323.70px;">Переходы по трекинговым ссылкам:</div>
<div class="t" style="font-size:19.77px;top:1414.00px;color:#1f2128;right:726.20px;">64</div>
<div class="t" style="font-size:19.77px;top:1414.00px;color:#1f2128;right:551.40px;">10</div>
<div class="t" style="font-size:19.77px;top:1414.00px;color:#1f2128;right:312.10px;">4.8</div>
<div class="t" style="font-size:19.77px;top:1414.00px;color:#1f2128;right:137.80px;">6</div>
<div style="position:absolute;left:324.00px;top:1486.00px;width:17.00px;height:2.00px;background:#2a2d35;border-radius:0px;"></div>
<div class="t" style="font-size:19.77px;top:1477.20px;color:#1f2128;letter-spacing:-0.169px;left:358.70px;">Письма</div>
<div class="t" style="font-size:16.86px;top:1509.71px;color:#6b7080;letter-spacing:0.093px;left:358.70px;">https://reviews.yandex.ru/shop/examplestore.com?utm_source=mail?utm_medi...</div>
<svg style="position:absolute;left:994.50px;top:1475.00px;" width="22" height="22" viewBox="0 0 22 22"><g fill="none" stroke="#6b6f7c" stroke-width="2.2" stroke-linejoin="round"><rect x="2.2" y="7.6" width="12.4" height="12.3" rx="1.3"/><path d="M6.2 2.9 H17.1 C18.3 2.9 19.2 3.8 19.2 5 V15.6" stroke-linecap="round"/></g></svg>
<div class="t" style="font-size:19.77px;top:1477.00px;color:#1f2128;right:726.20px;">15</div>
<div class="t" style="font-size:19.77px;top:1477.00px;color:#1f2128;right:551.40px;">5</div>
<div class="t" style="font-size:19.77px;top:1477.00px;color:#1f2128;right:312.10px;">4.8</div>
<div class="t" style="font-size:19.77px;top:1477.00px;color:#1f2128;right:137.80px;">2</div>
<div style="position:absolute;left:324.00px;top:1579.00px;width:17.00px;height:2.00px;background:#2a2d35;border-radius:0px;"></div>
<div class="t" style="font-size:19.77px;top:1569.61px;color:#1f2128;letter-spacing:-0.130px;left:358.70px;">QR-коды</div>
<div class="t" style="font-size:16.86px;top:1602.51px;color:#6b7080;letter-spacing:0.112px;left:358.70px;">https://reviews.yandex.ru/shop/examplestore.com?utm_source=qr?utm_mediu...</div>
<svg style="position:absolute;left:994.50px;top:1567.50px;" width="22" height="22" viewBox="0 0 22 22"><g fill="none" stroke="#6b6f7c" stroke-width="2.2" stroke-linejoin="round"><rect x="2.2" y="7.6" width="12.4" height="12.3" rx="1.3"/><path d="M6.2 2.9 H17.1 C18.3 2.9 19.2 3.8 19.2 5 V15.6" stroke-linecap="round"/></g></svg>
<div class="t" style="font-size:19.77px;top:1569.41px;color:#1f2128;right:726.20px;">15</div>
<div class="t" style="font-size:19.77px;top:1569.41px;color:#1f2128;right:551.40px;">3</div>
<div class="t" style="font-size:19.77px;top:1569.41px;color:#1f2128;right:312.10px;">4.8</div>
<div class="t" style="font-size:19.77px;top:1569.41px;color:#1f2128;right:137.80px;">2</div>
<div style="position:absolute;left:324.00px;top:1670.00px;width:17.00px;height:2.00px;background:#2a2d35;border-radius:0px;"></div>
<div class="t" style="font-size:19.77px;top:1661.41px;color:#1f2128;letter-spacing:0.180px;left:358.70px;">Мессенджеры</div>
<div class="t" style="font-size:16.86px;top:1694.21px;color:#6b7080;letter-spacing:0.075px;left:358.70px;">https://reviews.yandex.ru/shop/examplestore.com?utm_source=mess?utm_me...</div>
<svg style="position:absolute;left:994.50px;top:1659.00px;" width="22" height="22" viewBox="0 0 22 22"><g fill="none" stroke="#6b6f7c" stroke-width="2.2" stroke-linejoin="round"><rect x="2.2" y="7.6" width="12.4" height="12.3" rx="1.3"/><path d="M6.2 2.9 H17.1 C18.3 2.9 19.2 3.8 19.2 5 V15.6" stroke-linecap="round"/></g></svg>
<div class="t" style="font-size:19.77px;top:1661.30px;color:#1f2128;right:726.20px;">34</div>
<div class="t" style="font-size:19.77px;top:1661.30px;color:#1f2128;right:551.40px;">2</div>
<div class="t" style="font-size:19.77px;top:1661.30px;color:#1f2128;right:312.10px;">4.8</div>
<div class="t" style="font-size:19.77px;top:1661.30px;color:#1f2128;right:137.80px;">2</div>
<div style="position:absolute;left:305.6px;top:1770.5px;width:254px;height:61px;border:1.6px solid #e0e3e7;border-radius:18px;box-sizing:border-box;"></div>
<div class="t" style="font-size:22.38px;top:1790.20px;color:#1e2026;letter-spacing:-0.115px;left:325.30px;">Хочу больше ссылок</div>
</div></body></html>
